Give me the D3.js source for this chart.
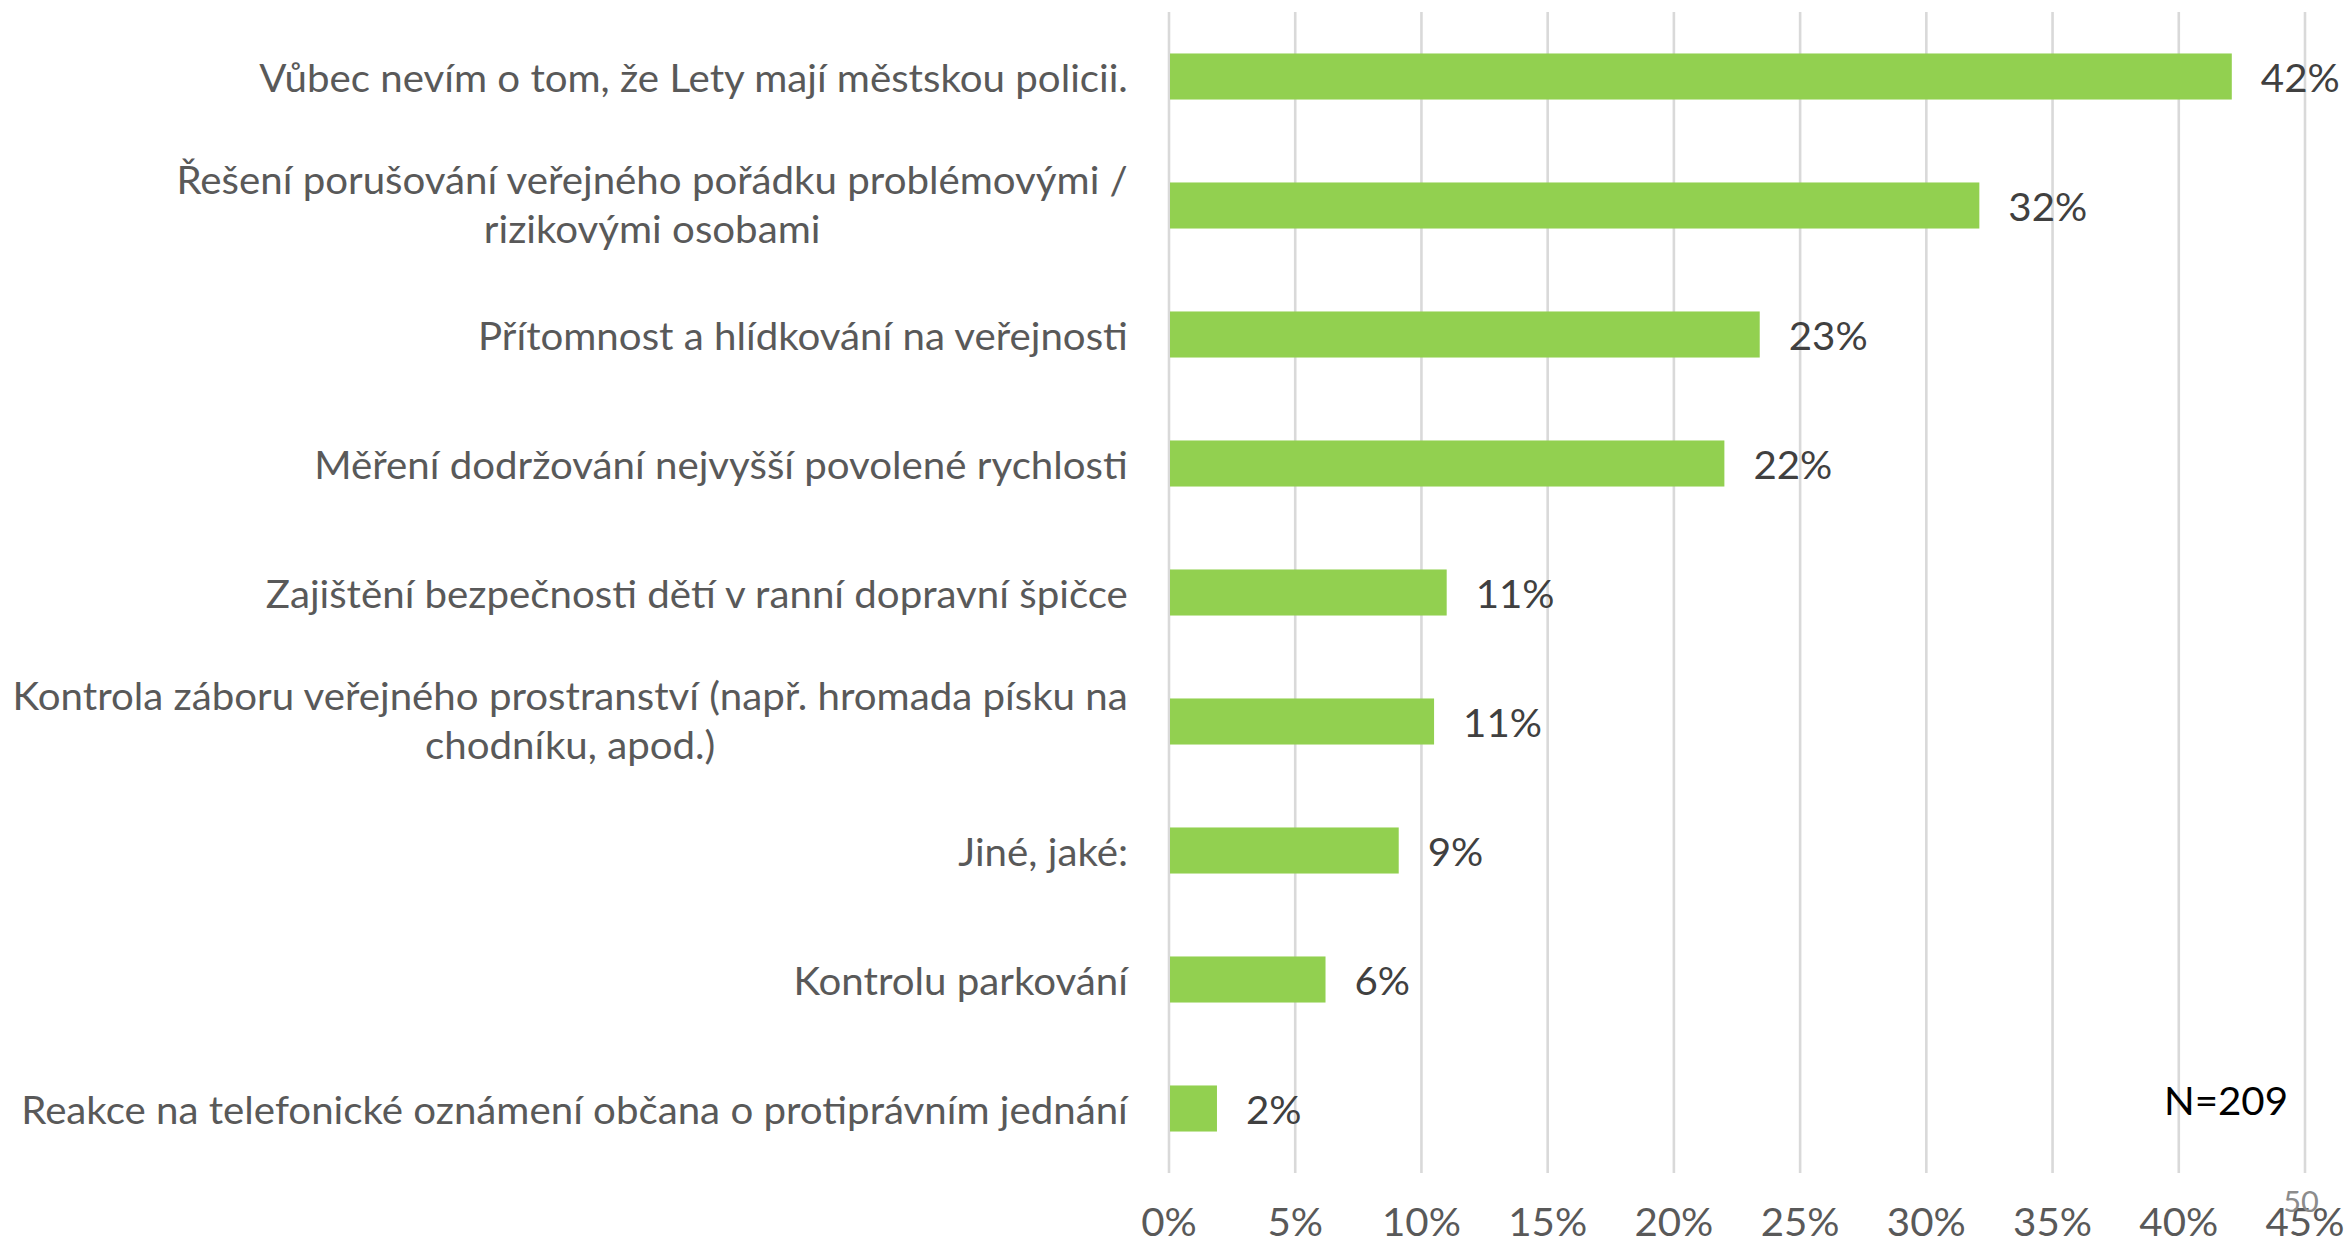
<!DOCTYPE html>
<html>
<head>
<meta charset="utf-8">
<script src="https://cdn.jsdelivr.net/npm/d3@7"></script>
<style>
  html, body { margin: 0; padding: 0; background: #ffffff; }
  svg { display: block; }
  text { font-family: Lato, "Open Sans", sans-serif; }
</style>
</head>
<body>
<svg id="chart" width="2351" height="1244"></svg>
<script>
// Categories (a "\n" splits a label into two lines)
const categories = [
  "Vůbec nevím o tom, že Lety mají městskou policii.",
  "Řešení porušování veřejného pořádku problémovými /\nrizikovými osobami",
  "Přítomnost a hlídkování na veřejnosti",
  "Měření dodržování nejvyšší povolené rychlosti",
  "Zajištění bezpečnosti dětí v ranní dopravní špičce",
  "Kontrola záboru veřejného prostranství (např. hromada písku na\nchodníku, apod.)",
  "Jiné, jaké:",
  "Kontrolu parkování",
  "Reakce na telefonické oznámení občana o protiprávním jednání"
];

// Share of respondents, in percent
const values = [42.1, 32.1, 23.4, 22.0, 11.0, 10.5, 9.1, 6.2, 1.9];

// Axis ticks, in percent
const tickValues = [0, 5, 10, 15, 20, 25, 30, 35, 40, 45];

const sampleNote = "N=209";
const pageNumber = "50";

const svg = d3.select("#chart");
const FONT = 38;

const x = d3.scaleLinear().domain([0, 45]).range([1169, 2305]);
const y = d3.scaleBand()
  .domain(categories)
  .range([12, 1173])
  .paddingInner(0.643)
  .paddingOuter(0.3215);

// Horizontal squeeze so the label face runs as narrow as a Calibri-style face
const probe = svg.append("text").attr("font-size", FONT)
  .text(categories[categories.length - 1]);
const squeeze = 1107 / probe.node().getComputedTextLength();
probe.remove();

// Vertical gridlines
svg.append("g")
  .selectAll("line")
  .data(tickValues)
  .join("line")
  .attr("x1", d => x(d)).attr("x2", d => x(d))
  .attr("y1", 12).attr("y2", 1173)
  .attr("stroke", "#d9d9d9")
  .attr("stroke-width", 2.6);

// Bars
svg.append("g")
  .selectAll("rect")
  .data(values)
  .join("rect")
  .attr("x", x(0) + 1)
  .attr("y", (d, i) => y(categories[i]))
  .attr("width", d => x(d) - x(0) - 1)
  .attr("height", y.bandwidth())
  .attr("fill", "#92d050");

// Value labels
svg.append("g")
  .selectAll("g")
  .data(values)
  .join("g")
  .attr("transform", (d, i) =>
    `translate(${x(d) + 29},${y(categories[i]) + y.bandwidth() / 2}) scale(${squeeze},1)`)
  .append("text")
  .attr("dominant-baseline", "central")
  .attr("font-size", FONT)
  .attr("fill", "#404040")
  .text(d => Math.round(d) + "%");

// Category labels, right-aligned block, lines centred within the block
const labelRight = 1128;
const lineGap = 49;
categories.forEach(cat => {
  const lines = cat.split("\n");
  const cy = y(cat) + y.bandwidth() / 2;
  const g = svg.append("g");
  const texts = lines.map(ln => g.append("text")
    .attr("font-size", FONT)
    .attr("fill", "#595959")
    .attr("dominant-baseline", "central")
    .attr("text-anchor", "middle")
    .text(ln));
  const widest = d3.max(texts, t => t.node().getComputedTextLength()) * squeeze;
  const cx = labelRight - widest / 2;
  texts.forEach((t, j) => {
    const ly = lines.length === 1 ? cy : cy - 2 + (j - (lines.length - 1) / 2) * lineGap;
    t.attr("transform", `translate(${cx},${ly}) scale(${squeeze},1)`);
  });
});

// Bottom axis tick labels
svg.append("g")
  .selectAll("g")
  .data(tickValues)
  .join("g")
  .attr("transform", d => `translate(${x(d)},1221) scale(${squeeze},1)`)
  .append("text")
  .attr("text-anchor", "middle")
  .attr("dominant-baseline", "central")
  .attr("font-size", FONT)
  .attr("fill", "#595959")
  .text(d => d + "%");

// Sample size note
svg.append("g")
  .attr("transform", `translate(2226,1100) scale(${squeeze},1)`)
  .append("text")
  .attr("text-anchor", "middle")
  .attr("dominant-baseline", "central")
  .attr("font-size", FONT)
  .attr("fill", "#000000")
  .text(sampleNote);

// Page number
svg.append("g")
  .attr("transform", `translate(2301,1201) scale(${squeeze},1)`)
  .append("text")
  .attr("text-anchor", "middle")
  .attr("dominant-baseline", "central")
  .attr("font-size", 29)
  .attr("fill", "#8c8c8c")
  .text(pageNumber);
</script>
</body>
</html>
